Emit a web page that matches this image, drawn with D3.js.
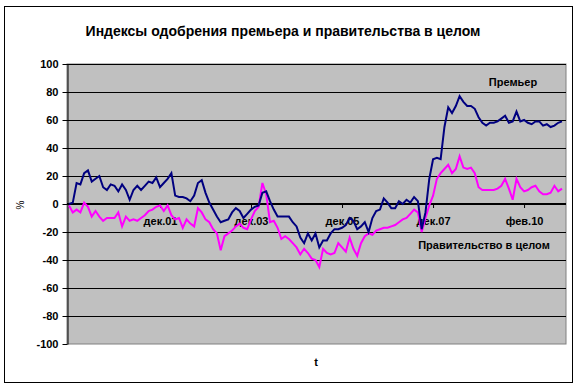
<!DOCTYPE html>
<html>
<head>
<meta charset="utf-8">
<script src="https://cdn.jsdelivr.net/npm/d3@7"></script>
<style>
  body { margin: 0; background: #fff; }
  text { font-family: "Liberation Sans", Arial, sans-serif; }
</style>
</head>
<body>
<div id="chart"></div>
<script>
// monthly surveys, one value per category
const premier = [
  0, 1, 15, 14, 22, 24, 16, 18, 20, 12, 10, 14, 13, 9, 14, 10, 3, 10, 13, 10,
  13, 16, 15, 19, 12, 15, 18, 22, 6, 5, 5, 4, 2, 6, 15, 17, 8, 1, -4, -9,
  -13, -12, -11, -6, -3, -5, -10, -7, -4, -2, -1, 8, 9, 2, -4, -9, -9, -9, -9, -13,
  -16, -24, -28, -21, -26, -21, -31, -26, -26, -21, -18, -18, -17, -15, -10, -12, -18, -16, -13, -20,
  -10, -5, -4, 4, 1, -3, -3, 2, 0, 3, 1, 5, 2, -18, -6, 18, 32, 33, 32, 55,
  69, 65, 70, 77, 73, 70, 70, 68, 62, 58, 56, 58, 58, 59, 61, 63, 58, 59, 66, 59,
  60, 58, 57, 59, 59, 56, 57, 55, 56, 58, 59
];
const government = [
  -1, -6, -4, -6, 1, -2, -9, -5, -9, -12, -10, -10, -10, -6, -16, -9, -12, -11, -12, -10,
  -8, -5, -4, -2, -1, -5, -1, -8, -11, -10, -17, -11, -14, -16, -3, -6, -11, -13, -18, -21,
  -33, -23, -21, -19, -16, -14, -17, -18, -11, -5, -2, 15, 7, -13, -12, -17, -25, -23, -25, -28,
  -31, -36, -32, -35, -39, -40, -45, -32, -35, -36, -35, -28, -31, -34, -24, -32, -37, -28, -23, -21,
  -22, -19, -18, -17, -17, -16, -15, -13, -11, -10, -7, -4, -6, -20, -10, -1, 6, 18, 22, 25,
  28, 22, 25, 34, 26, 25, 26, 22, 12, 10, 10, 10, 10, 11, 13, 18, 11, 3, 18, 12,
  9, 10, 12, 13, 9, 7, 7, 8, 13, 9, 11
];
const tickIndex = [24, 48, 72, 96, 120];
const tickLabels = ["дек.01", "дек.03", "дек.05", "дек.07", "фев.10"];
const yTicks = [100, 80, 60, 40, 20, 0, -20, -40, -60, -80, -100];

const W = 577, H = 386;
const plot = { left: 67, right: 566, top: 64, bottom: 344 };

const svg = d3.select('#chart').append('svg')
  .attr('width', W)
  .attr('height', H);

svg.append('rect')
  .attr('x', 4.5).attr('y', 6.5)
  .attr('width', 568).attr('height', 376)
  .attr('fill', '#fff')
  .attr('stroke', '#000');

svg.append('text')
  .attr('x', 283).attr('y', 36)
  .attr('text-anchor', 'middle')
  .style('font-size', '14px')
  .style('font-weight', 'bold')
  .text('Индексы одобрения премьера и правительства в целом');

const x = d3.scaleLinear()
  .domain([0, premier.length - 1])
  .range([69, 562]);
const y = d3.scaleLinear()
  .domain([-100, 100])
  .range([plot.bottom, plot.top]);

svg.append('rect')
  .attr('x', plot.left).attr('y', plot.top)
  .attr('width', plot.right - plot.left).attr('height', plot.bottom - plot.top)
  .attr('fill', '#c0c0c0')
  .attr('stroke', '#808080');

// gridlines
svg.append('g')
  .selectAll('line')
  .data(yTicks.filter(d => d !== 0 && d !== -100))
  .enter().append('line')
  .attr('x1', plot.left).attr('x2', plot.right)
  .attr('y1', d => Math.round(y(d)) + 0.5)
  .attr('y2', d => Math.round(y(d)) + 0.5)
  .attr('stroke', '#000');

// y axis
const yAxis = svg.append('g')
  .attr('transform', `translate(${plot.left + 0.5},0)`)
  .call(d3.axisLeft(y).tickValues(yTicks).tickFormat(d => String(d))
    .tickSize(5).tickPadding(4).tickSizeOuter(0));
yAxis.select('.domain').attr('stroke', '#000');
yAxis.selectAll('text')
  .style('font-size', '11px')
  .style('font-weight', 'bold')
  .style('font-family', '"Liberation Sans", Arial, sans-serif')
  .attr('fill', '#000');

// category axis at zero
const xAxis = svg.append('g')
  .attr('transform', `translate(0,${y(0)})`)
  .call(d3.axisBottom(x)
    .tickValues(tickIndex)
    .tickFormat((d, i) => tickLabels[i])
    .tickSize(4).tickPadding(9).tickSizeOuter(0));
xAxis.select('.domain').remove();
xAxis.selectAll('text')
  .style('font-size', '11px')
  .style('font-weight', 'bold')
  .style('font-family', '"Liberation Sans", Arial, sans-serif')
  .attr('fill', '#000');

svg.append('line')
  .attr('x1', plot.left).attr('x2', plot.right)
  .attr('y1', y(0)).attr('y2', y(0))
  .attr('stroke', '#000')
  .attr('stroke-width', 2);

const line = d3.line()
  .x((d, i) => x(i))
  .y(d => y(d));

svg.append('path')
  .datum(government)
  .attr('d', line)
  .attr('fill', 'none')
  .attr('stroke', '#ff00ff')
  .attr('stroke-width', 2);

svg.append('path')
  .datum(premier)
  .attr('d', line)
  .attr('fill', 'none')
  .attr('stroke', '#000080')
  .attr('stroke-width', 2);

// series labels
svg.append('text')
  .attr('x', 513).attr('y', 86)
  .attr('text-anchor', 'middle')
  .style('font-size', '11px').style('font-weight', 'bold')
  .text('Премьер');
svg.append('text')
  .attr('x', 484).attr('y', 249)
  .attr('text-anchor', 'middle')
  .style('font-size', '11px').style('font-weight', 'bold')
  .text('Правительство в целом');

// axis titles
svg.append('text')
  .attr('transform', 'translate(24,205) rotate(-90)')
  .attr('text-anchor', 'middle')
  .style('font-size', '10px')
  .text('%');
svg.append('text')
  .attr('x', 316).attr('y', 366)
  .attr('text-anchor', 'middle')
  .style('font-size', '11px').style('font-weight', 'bold')
  .text('t');
</script>
</body>
</html>
